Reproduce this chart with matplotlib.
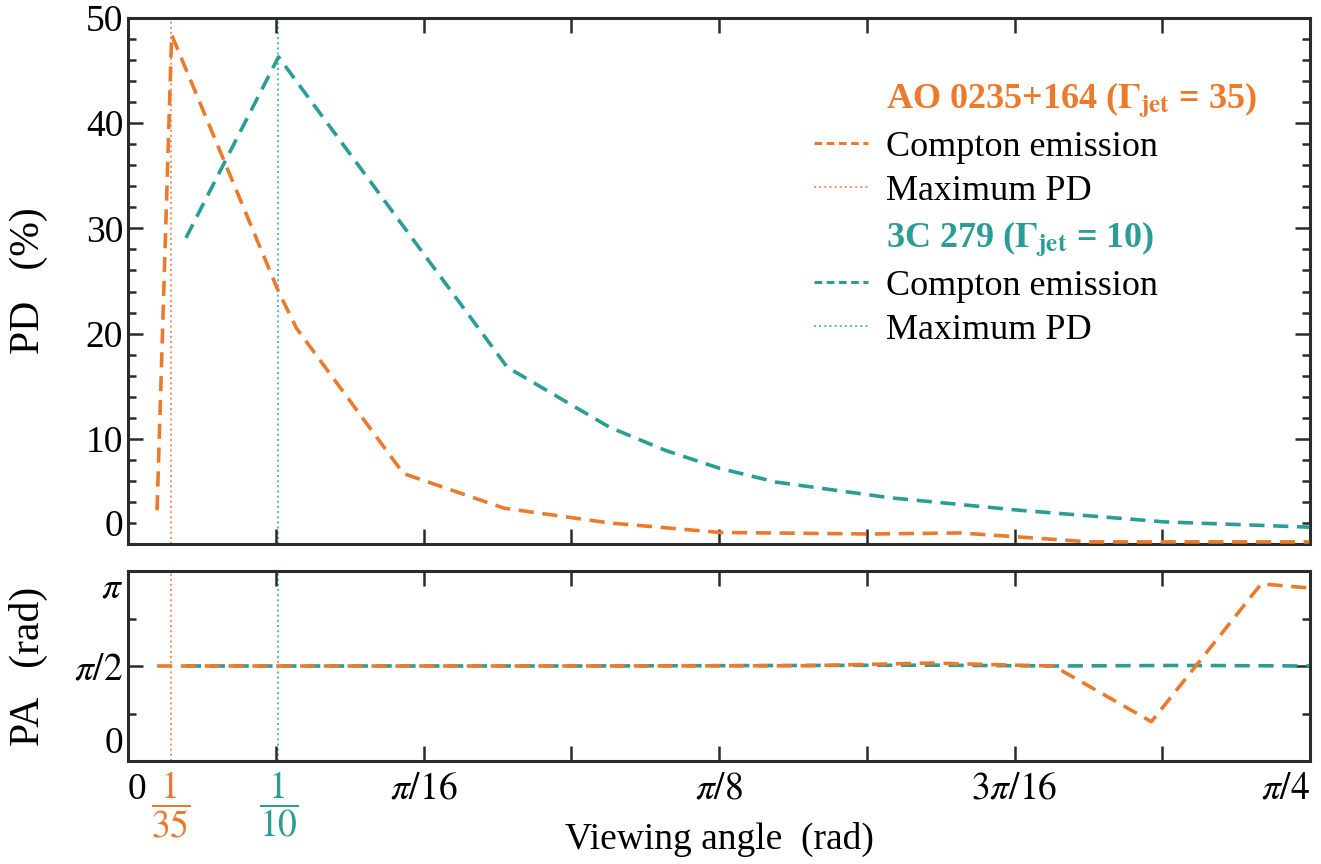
import numpy as np
import matplotlib
matplotlib.use("Agg")
import matplotlib.pyplot as plt
from matplotlib.lines import Line2D
from matplotlib.ticker import FixedLocator, FixedFormatter

plt.rcParams['font.family'] = ['Liberation Serif', 'DejaVu Serif']
plt.rcParams['mathtext.fontset'] = 'stix'

# ---------------- data ----------------
theta_ao_pd = [0.0193, 0.0290, 0.100, 0.112, 0.183, 0.250, 0.320, 0.393, 0.493, 0.553, 0.589, 0.639, 0.785]
pd_ao = [3.2, 48.4, 24.0, 20.5, 6.7, 3.4, 2.0, 1.1, 0.95, 1.05, 0.7, 0.2, 0.2]

theta_3c_pd = [0.0385, 0.100, 0.252, 0.320, 0.357, 0.393, 0.430, 0.506, 0.593, 0.689, 0.785]
pd_3c = [29.1, 46.3, 16.8, 11.1, 8.9, 7.2, 5.9, 4.4, 3.2, 2.1, 1.6]

theta_ao_pa = [0.0193, 0.100, 0.300, 0.450, 0.534, 0.580, 0.615, 0.680, 0.753, 0.785]
pa_ao = [1.571, 1.571, 1.571, 1.575, 1.62, 1.59, 1.571, 0.65, 2.93, 2.86]

theta_3c_pa = [0.0385, 0.100, 0.300, 0.534, 0.615, 0.700, 0.785]
pa_3c = [1.571, 1.571, 1.571, 1.585, 1.571, 1.58, 1.571]

max_pd_theta = [1 / 35, 1 / 10]

x_major = [k * np.pi / 32 for k in range(9)]
x_major_labels = ['0', '', r'$\pi/16$', '', r'$\pi/8$', '', r'$3\pi/16$', '', r'$\pi/4$']
x_special_labels = [r'$\dfrac{1}{35}$', r'$\dfrac{1}{10}$']

pd_ticks = [0, 10, 20, 30, 40, 50]
pa_ticks = [0, np.pi / 2, np.pi]
pa_tick_labels = ['0', r'$\pi/2$', r'$\pi$']

legend_labels = [r'AO 0235+164 ($\mathbf{\Gamma}_{\mathbf{jet}}$ = 35)', 'Compton emission', 'Maximum PD',
                 r'3C 279 ($\mathbf{\Gamma}_{\mathbf{jet}}$ = 10)', 'Compton emission', 'Maximum PD']

# ---------------- style ----------------
ORANGE = '#ec7a2c'
ORANGE_LIGHT = '#f28e62'
TEAL = '#2a9d96'
TEAL_LIGHT = '#4cb8c4'
SPINE = '#2b2b2b'
FS = 27
FS_LEG = 26
FS_YL = 30

fig = plt.figure(figsize=(13.21, 8.64), dpi=100)
W, H = 1321, 864
ax1 = fig.add_axes([128 / W, 1 - 544 / H, (1310 - 128) / W, (544 - 18) / H])
ax2 = fig.add_axes([128 / W, 1 - 761 / H, (1310 - 128) / W, (761 - 571) / H])

for ax in (ax1, ax2):
    for s in ax.spines.values():
        s.set_linewidth(2.2)
        s.set_color(SPINE)
    ax.set_xlim(0, np.pi / 4)
    ax.xaxis.set_major_locator(FixedLocator(x_major))
    ax.tick_params(which='both', direction='in', top=True, right=True,
                   width=1.8, color=SPINE, labelsize=FS)
    ax.tick_params(which='major', length=11)
    ax.tick_params(which='minor', length=6)
    ax.axvline(max_pd_theta[0], color=ORANGE_LIGHT, ls=':', lw=1.4, zorder=1)
    ax.axvline(max_pd_theta[1], color=TEAL_LIGHT, ls=':', lw=1.4, zorder=1)

# top panel
ax1.plot(theta_ao_pd, pd_ao, color=ORANGE, ls='--', lw=2.6, dashes=(4.2, 2.4), zorder=3)
ax1.plot(theta_3c_pd, pd_3c, color=TEAL, ls='--', lw=2.6, dashes=(4.2, 2.4), zorder=3)
ax1.set_ylim(0, 50)
ax1.set_yticks(pd_ticks)
ax1.yaxis.set_minor_locator(FixedLocator(np.arange(0, 51, 2)))
ax1.set_xticklabels([])
ax1.set_ylabel('PD   (%)', fontsize=FS_YL)
for lab in ax1.get_yticklabels():
    if lab.get_text() == '0':
        lab.set_va('bottom')

# bottom panel
ax2.plot(theta_ao_pa, pa_ao, color=ORANGE, ls='--', lw=2.6, dashes=(4.2, 2.4), zorder=3)
ax2.plot(theta_3c_pa, pa_3c, color=TEAL, ls='--', lw=2.6, dashes=(4.2, 2.4), zorder=2)
ax2.set_ylim(0, np.pi)
ax2.set_yticks(pa_ticks)
ax2.set_yticklabels(pa_tick_labels)
ax2.yaxis.set_minor_locator(FixedLocator([np.pi / 4, 3 * np.pi / 4]))
ylabs = ax2.get_yticklabels()
ylabs[0].set_va('bottom')
ylabs[2].set_va('top')
ax2.set_xticklabels(x_major_labels)
ax2.xaxis.set_minor_locator(FixedLocator(max_pd_theta))
ax2.xaxis.set_minor_formatter(FixedFormatter(x_special_labels))
ax2.tick_params(axis='x', which='minor', length=0, labelsize=FS, pad=6)
ax2.tick_params(axis='x', which='major', pad=8)
mlabs = ax2.get_xticklabels(minor=True)
mlabs[0].set_color(ORANGE)
mlabs[1].set_color(TEAL)
xl = ax2.get_xticklabels()
xl[0].set_ha('left')
xl[-1].set_ha('right')
ax2.set_xlabel('Viewing angle  (rad)', fontsize=FS, labelpad=-13)
ax2.set_ylabel('PA   (rad)', fontsize=FS_YL)
ax1.yaxis.set_label_coords(-0.068, 0.5)
ax2.yaxis.set_label_coords(-0.068, 0.5)

# legend
handles = [Line2D([], [], ls='none'),
           Line2D([], [], color=ORANGE, ls='--', lw=2.2, dashes=(2.5, 1.5)),
           Line2D([], [], color=ORANGE_LIGHT, ls=':', lw=1.4),
           Line2D([], [], ls='none'),
           Line2D([], [], color=TEAL, ls='--', lw=2.2, dashes=(2.5, 1.5)),
           Line2D([], [], color=TEAL_LIGHT, ls=':', lw=1.4)]
leg = ax1.legend(handles, legend_labels, loc='upper left',
                 bbox_to_anchor=((814 - 128) / 1182, (544 - 80) / 526),
                 frameon=False, fontsize=FS_LEG, handlelength=1.5, handletextpad=0.5,
                 labelspacing=0.3, borderpad=0, borderaxespad=0)
texts = leg.get_texts()
texts[0].set_color(ORANGE)
texts[0].set_fontweight('bold')
texts[3].set_color(TEAL)
texts[3].set_fontweight('bold')

fig.savefig('out.png', dpi=100)
